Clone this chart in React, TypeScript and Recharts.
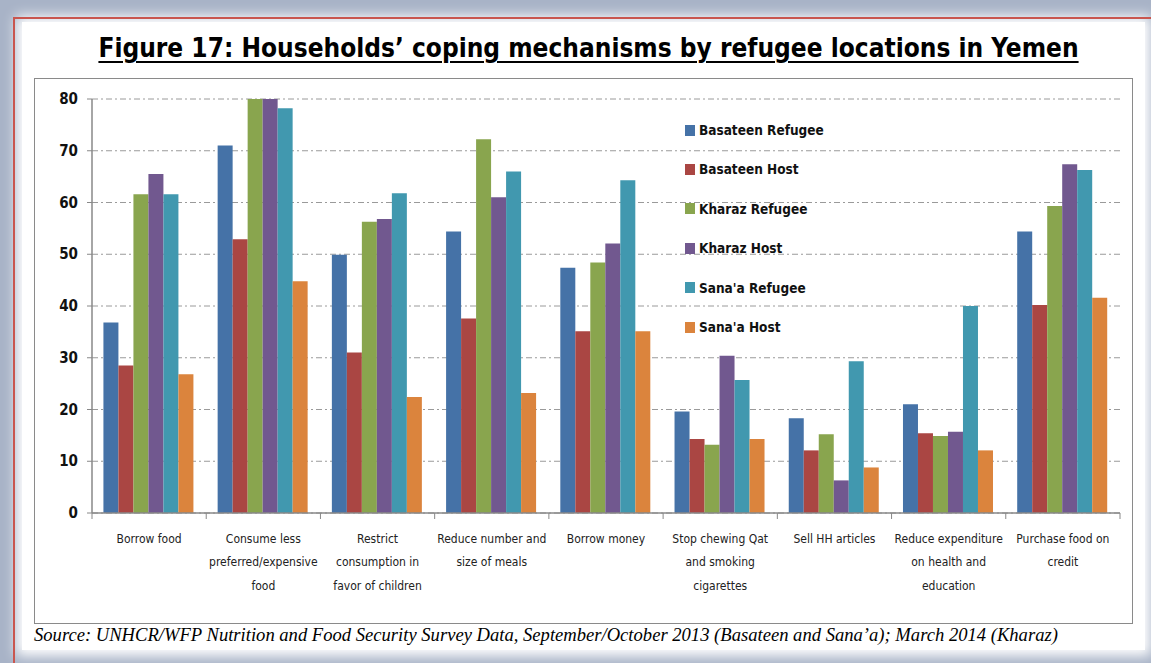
import React from "react";
import { BarChart, Bar, XAxis, YAxis, CartesianGrid } from "recharts";

const categories = [
  "Borrow food",
  "Consume less\npreferred/expensive\nfood",
  "Restrict\nconsumption in\nfavor of children",
  "Reduce number and\nsize of meals",
  "Borrow money",
  "Stop chewing Qat\nand smoking\ncigarettes",
  "Sell HH articles",
  "Reduce expenditure\non health and\neducation",
  "Purchase food on\ncredit",
];

const basateenRefugee = [36.8, 71.0, 49.9, 54.4, 47.4, 19.6, 18.3, 21.0, 54.4];
const basateenHost = [28.5, 52.9, 31.0, 37.6, 35.1, 14.3, 12.1, 15.4, 40.2];
const kharazRefugee = [61.6, 80.0, 56.3, 72.2, 48.4, 13.2, 15.2, 14.9, 59.3];
const kharazHost = [65.5, 80.0, 56.8, 61.0, 52.1, 30.4, 6.3, 15.7, 67.4];
const sanaaRefugee = [61.6, 78.2, 61.8, 66.0, 64.3, 25.7, 29.3, 40.0, 66.3];
const sanaaHost = [26.8, 44.8, 22.4, 23.2, 35.1, 14.3, 8.8, 12.1, 41.6];

const yTicks = [0, 10, 20, 30, 40, 50, 60, 70, 80];

const seriesNames = [
  "Basateen Refugee",
  "Basateen Host",
  "Kharaz Refugee",
  "Kharaz Host",
  "Sana'a Refugee",
  "Sana'a Host",
];
const seriesKeys = ["bR", "bH", "kR", "kH", "sR", "sH"];
const seriesColors = ["#4572a7", "#aa4643", "#89a54e", "#71588f", "#4198af", "#db843d"];

const chartData = categories.map((name, i) => ({
  name,
  bR: basateenRefugee[i],
  bH: basateenHost[i],
  kR: kharazRefugee[i],
  kH: kharazHost[i],
  sR: sanaaRefugee[i],
  sH: sanaaHost[i],
}));

const condensed = "'DejaVu Sans Condensed', 'DejaVu Sans', sans-serif";

function XTick(props: any) {
  const { x, y, payload, index, visibleTicksCount } = props;
  const half = payload && payload.offset ? payload.offset : 57.1;
  const lines = String(payload.value).split("\n");
  const isLast = index === (visibleTicksCount ?? 9) - 1;
  return (
    <g>
      <line x1={x - half} x2={x - half} y1={y} y2={y + 6} stroke="#888" strokeWidth={1} />
      {isLast && (
        <line x1={x + half} x2={x + half} y1={y} y2={y + 6} stroke="#888" strokeWidth={1} />
      )}
      {lines.map((ln, i) => (
        <text
          key={i}
          x={x}
          y={y + 29.5 + i * 23.7}
          textAnchor="middle"
          fontFamily={condensed}
          fontSize={12}
          fill="#222"
        >
          {ln}
        </text>
      ))}
    </g>
  );
}

function YTick(props: any) {
  const { x, y, payload } = props;
  return (
    <text
      x={x}
      y={y}
      dy={5}
      textAnchor="end"
      fontFamily={condensed}
      fontWeight="bold"
      fontSize={15}
      fill="#111"
    >
      {payload.value}
    </text>
  );
}

export default function App() {
  return (
    <div
      style={{
        position: "fixed",
        left: 0,
        top: 0,
        width: 1151,
        height: 663,
        background: "#a8b3c7",
        overflow: "hidden",
      }}
    >
      <div
        style={{
          position: "absolute",
          left: 22,
          top: 22,
          width: 1123,
          height: 628,
          background: "#fff",
          boxShadow: "0 0 12px 6px #ffffff",
        }}
      />
      <div
        style={{
          position: "absolute",
          left: 13,
          top: 17,
          width: 1200,
          height: 700,
          borderTop: "2px solid #c9564f",
          borderLeft: "2px solid #c9564f",
        }}
      />
      <div
        style={{
          position: "absolute",
          left: 0,
          top: 33,
          width: 1177,
          textAlign: "center",
          fontFamily: condensed,
          fontWeight: "bold",
          fontSize: 26,
          color: "#000",
          textDecoration: "underline",
          textUnderlineOffset: 4,
          textDecorationThickness: 2,
          whiteSpace: "nowrap",
        }}
      >
        Figure 17: Households’ coping mechanisms by refugee locations in Yemen
      </div>
      <div
        style={{
          position: "absolute",
          left: 34,
          top: 78,
          width: 1097,
          height: 544,
          border: "1px solid #8a8a8a",
          background: "#fff",
        }}
      >
        <BarChart
          width={1097}
          height={544}
          data={chartData}
          margin={{ top: 20, right: 12, left: 0, bottom: 0 }}
          barCategoryGap="10%"
          barGap={0}
        >
          <CartesianGrid
            vertical={false}
            stroke="#9a9a9a"
            strokeDasharray="6 3 2 3"
          />
          <XAxis
            dataKey="name"
            interval={0}
            height={110}
            tickLine={false}
            tickSize={0}
            tickMargin={0}
            axisLine={{ stroke: "#888", strokeWidth: 1.5 }}
            tick={<XTick />}
          />
          <YAxis
            width={57}
            domain={[0, 80]}
            ticks={yTicks}
            interval={0}
            allowDataOverflow
            tickSize={5}
            tickMargin={9}
            axisLine={{ stroke: "#888", strokeWidth: 1.5 }}
            tickLine={{ stroke: "#888" }}
            tick={<YTick />}
          />
          {seriesKeys.map((k, i) => (
            <Bar
              key={k}
              dataKey={k}
              name={seriesNames[i]}
              fill={seriesColors[i]}
              isAnimationActive={false}
            />
          ))}
        </BarChart>
      </div>
      <div style={{ position: "absolute", left: 685, top: 117, width: 200 }}>
        {seriesNames.map((n, i) => (
          <div
            key={n}
            style={{
              position: "absolute",
              left: 0,
              top: i * 39.4,
              height: 26,
              display: "flex",
              alignItems: "center",
              whiteSpace: "nowrap",
            }}
          >
            <span
              style={{
                display: "inline-block",
                width: 10,
                height: 11,
                background: seriesColors[i],
                marginRight: 4,
              }}
            />
            <span
              style={{
                fontFamily: condensed,
                fontWeight: "bold",
                fontSize: 13.5,
                color: "#111",
              }}
            >
              {n}
            </span>
          </div>
        ))}
      </div>
      <div
        style={{
          position: "absolute",
          left: 34,
          top: 624,
          fontFamily: "'Liberation Serif', 'Times New Roman', serif",
          fontStyle: "italic",
          fontSize: 18.6,
          color: "#000",
          whiteSpace: "nowrap",
        }}
      >
        Source: UNHCR/WFP Nutrition and Food Security Survey Data, September/October 2013 (Basateen and Sana’a); March 2014 (Kharaz)
      </div>
    </div>
  );
}
